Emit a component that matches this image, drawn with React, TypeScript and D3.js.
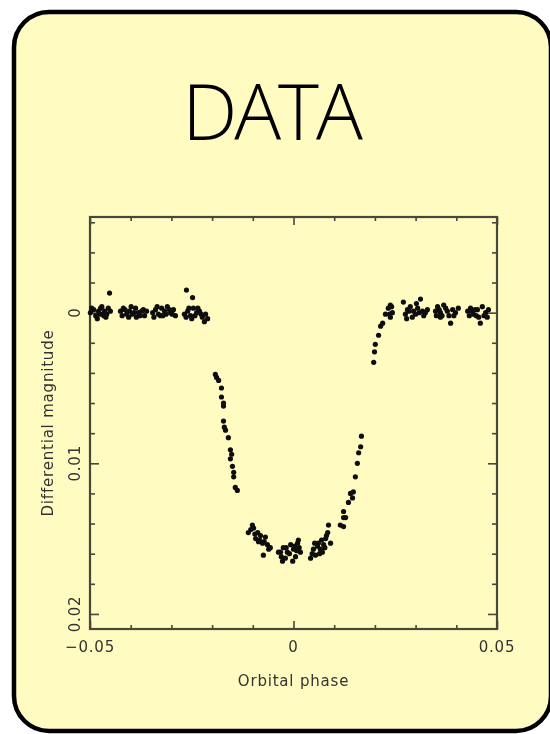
import React, { useEffect, useRef } from "react";
import * as d3 from "d3";

// [orbital phase, differential magnitude]
const preIngress: [number, number][] = [
  [-0.0499, 0], [-0.0491, -0.0002], [-0.0486, 0.0002], [-0.0479, -0.0001], [-0.0474, -0.0003],
  [-0.0469, 0.0001], [-0.0464, -0.0001], [-0.0459, 0.0001], [-0.0455, -0.0003], [-0.045, -0.0001],
  [-0.0452, -0.0013], [-0.0496, -0.0003], [-0.0482, 0.0004], [-0.0471, -0.0004], [-0.0461, 0.0003],
  [-0.0466, 0.0002], [-0.0476, 0.0001],
  [-0.0425, -0.0001], [-0.0418, -0.0003], [-0.041, 0.0001], [-0.0403, -0.0001], [-0.0396, 0.0001],
  [-0.0388, -0.0003], [-0.0381, 0], [-0.0373, -0.0001], [-0.0366, 0.0002], [-0.0361, -0.0001],
  [-0.0405, 0.0003], [-0.0386, 0.0003], [-0.0421, 0.0002], [-0.0414, -0.0002], [-0.0399, -0.0004],
  [-0.0392, 0], [-0.0377, 0.0002], [-0.0369, -0.0002],
  [-0.0346, 0], [-0.0339, -0.0002], [-0.0332, 0.0001], [-0.0324, -0.0003], [-0.0317, -0.0001],
  [-0.031, -0.0004], [-0.0302, 0], [-0.0295, -0.0002], [-0.029, 0.0002], [-0.0327, 0.0002],
  [-0.0343, 0.0003], [-0.0335, -0.0004], [-0.0321, 0.0002], [-0.0313, 0.0001], [-0.0305, -0.0002],
  [-0.0298, 0.0001],
  [-0.0263, -0.0015], [-0.0248, -0.001], [-0.0268, 0.0001], [-0.026, -0.0001], [-0.0253, 0.0002],
  [-0.0246, -0.0003], [-0.0238, 0], [-0.0231, -0.0001], [-0.0224, 0.0003], [-0.0216, 0.0001],
  [-0.0219, 0.0006], [-0.0211, 0.0004], [-0.0264, 0.0003], [-0.0257, -0.0003], [-0.025, 0.0004],
  [-0.0242, 0.0002], [-0.0235, -0.0003], [-0.0227, 0.0001]
];

const ingress: [number, number][] = [
  [-0.0192, 0.0041], [-0.0189, 0.0043], [-0.0184, 0.0045], [-0.0177, 0.005], [-0.0177, 0.0056],
  [-0.0172, 0.006], [-0.0172, 0.0062], [-0.0172, 0.0072], [-0.017, 0.0076], [-0.0167, 0.0078],
  [-0.016, 0.0083], [-0.0155, 0.0091], [-0.0152, 0.0094], [-0.0155, 0.0097], [-0.015, 0.0102],
  [-0.0147, 0.0106], [-0.0147, 0.0109], [-0.0143, 0.0116], [-0.0138, 0.0118]
];

const transitFloor: [number, number][] = [
  [-0.0101, 0.0141], [-0.0098, 0.0143], [-0.0111, 0.0146], [-0.0088, 0.0146], [-0.0081, 0.0148],
  [-0.0093, 0.015], [-0.0069, 0.0149], [-0.0086, 0.0152], [-0.0064, 0.0154], [-0.0076, 0.0153],
  [-0.0057, 0.0156], [-0.0074, 0.0161], [-0.0105, 0.0144], [-0.0095, 0.0147], [-0.0083, 0.0151],
  [-0.0072, 0.0152], [-0.0061, 0.0157],
  [-0.0037, 0.0159], [-0.0032, 0.0159], [-0.0025, 0.0156], [-0.0015, 0.0159], [-0.0007, 0.0154],
  [-0.002, 0.0163], [0, 0.0157], [0.001, 0.0153], [0.0005, 0.0162], [0.0017, 0.0159],
  [-0.0027, 0.0165], [-0.0002, 0.0165], [0.0012, 0.0151], [-0.003, 0.0162], [-0.0018, 0.0156],
  [-0.001, 0.016], [0.0003, 0.0155], [0.0008, 0.0158], [0.0014, 0.0156],
  [0.0042, 0.0163], [0.0049, 0.0157], [0.0059, 0.0155], [0.0066, 0.0157], [0.0061, 0.0153],
  [0.0074, 0.0154], [0.0079, 0.015], [0.0086, 0.0141], [0.0084, 0.0146], [0.0091, 0.0153],
  [0.0071, 0.0159], [0.0054, 0.0161], [0.0046, 0.016], [0.0052, 0.0153], [0.0064, 0.016],
  [0.0069, 0.0151], [0.0077, 0.0156], [0.0081, 0.0148]
];

const egress: [number, number][] = [
  [0.0115, 0.0141], [0.0123, 0.0142], [0.0123, 0.0136], [0.0123, 0.0132], [0.0128, 0.0136],
  [0.0135, 0.0126], [0.014, 0.012], [0.0145, 0.0123], [0.0147, 0.0119], [0.0152, 0.0109],
  [0.0157, 0.01], [0.016, 0.0093], [0.0165, 0.0089], [0.0167, 0.0082],
  [0.0197, 0.0033], [0.0199, 0.0026], [0.0201, 0.0021], [0.0209, 0.0015], [0.0214, 0.0009],
  [0.0219, 0.0007], [0.0226, 0.0001], [0.0233, -0.0003], [0.0238, -0.0005], [0.0243, 0],
  [0.0238, 0.0003], [0.0241, -0.0004], [0.0236, 0.0001]
];

const postEgress: [number, number][] = [
  [0.027, -0.0007], [0.028, -0.0002], [0.0287, -0.0004], [0.0295, -0.0001], [0.0305, -0.0003],
  [0.0312, -0.0009], [0.0317, -0.0001], [0.0324, 0], [0.0275, 0.0001], [0.0292, 0.0003],
  [0.0329, -0.0002], [0.0278, 0.0004], [0.0284, -0.0001], [0.03, 0.0001], [0.0309, 0],
  [0.032, 0.0002], [0.0302, -0.0006],
  [0.0349, -0.0001], [0.0354, -0.0004], [0.0361, 0], [0.0369, -0.0005], [0.0378, -0.0001],
  [0.0386, 0.0007], [0.0391, -0.0002], [0.0398, 0], [0.0405, -0.0003], [0.0361, 0.0003],
  [0.0351, 0.0002], [0.0358, -0.0002], [0.0365, 0.0002], [0.0374, -0.0003], [0.0382, 0.0002],
  [0.0394, 0.0002],
  [0.0428, -0.0001], [0.0435, -0.0003], [0.0442, 0.0001], [0.0452, -0.0002], [0.0459, 0.0007],
  [0.0464, -0.0004], [0.0472, 0], [0.0479, -0.0002], [0.0455, 0.0003], [0.0432, 0.0002],
  [0.0439, -0.0001], [0.0446, -0.0002], [0.0449, 0.0002], [0.0468, 0.0002], [0.0476, 0.0003]
];

const xMajorTicks = [-0.05, 0, 0.05];
const xMinorTicks = [-0.04, -0.03, -0.02, -0.01, 0.01, 0.02, 0.03, 0.04];
const yMajorTicks = [0, 0.01, 0.02];
const yMinorTicks = [-0.006, -0.004, -0.002, 0.002, 0.004, 0.006, 0.008, 0.012, 0.014, 0.016, 0.018];

const margin = { left: 90, top: 217 };
const innerW = 407;
const innerH = 412;
const axisColor = "#47473a";
const labelFont = "'DejaVu Sans', sans-serif";

export default function App() {
  const plotRef = useRef<SVGGElement>(null);

  useEffect(() => {
    const g = d3.select(plotRef.current);
    g.selectAll("*").remove();

    const x = d3.scaleLinear().domain([-0.05, 0.05]).range([0, innerW]);
    const y = d3.scaleLinear().domain([-0.00635, 0.021]).range([0, innerH]);
    const fmt = (d: number) => (d === 0 ? "0" : d3.format(".2~f")(d));

    // tick marks on all four sides, pointing inward
    const ticks = (axis: any, transform: string) => {
      const a = g.append("g").attr("transform", transform).call(axis);
      a.select(".domain").remove();
      a.selectAll("text").remove();
      a.selectAll("line").attr("stroke", axisColor).attr("stroke-width", 1.6);
    };
    ticks(d3.axisBottom(x).tickValues(xMinorTicks).tickSize(-4), `translate(0,${innerH})`);
    ticks(d3.axisBottom(x).tickValues(xMajorTicks).tickSize(-8), `translate(0,${innerH})`);
    ticks(d3.axisTop(x).tickValues(xMinorTicks).tickSize(-4), "translate(0,0)");
    ticks(d3.axisTop(x).tickValues(xMajorTicks).tickSize(-8), "translate(0,0)");
    ticks(d3.axisLeft(y).tickValues(yMinorTicks).tickSize(-5), "translate(0,0)");
    ticks(d3.axisLeft(y).tickValues(yMajorTicks).tickSize(-9), "translate(0,0)");
    ticks(d3.axisRight(y).tickValues(yMinorTicks).tickSize(-5), `translate(${innerW},0)`);
    ticks(d3.axisRight(y).tickValues(yMajorTicks).tickSize(-9), `translate(${innerW},0)`);

    g.append("rect")
      .attr("width", innerW)
      .attr("height", innerH)
      .attr("fill", "none")
      .attr("stroke", axisColor)
      .attr("stroke-width", 2.2);

    // tick labels
    g.selectAll(".xlab")
      .data(xMajorTicks)
      .join("text")
      .attr("class", "xlab")
      .attr("x", (d) => x(d))
      .attr("y", innerH + 23)
      .attr("text-anchor", "middle")
      .text(fmt);

    g.selectAll(".ylab")
      .data(yMajorTicks)
      .join("text")
      .attr("class", "ylab")
      .attr("transform", (d) => `translate(-10,${y(d)}) rotate(-90)`)
      .attr("text-anchor", "middle")
      .text(fmt);

    // axis titles
    g.append("text")
      .attr("x", innerW / 2)
      .attr("y", innerH + 57)
      .attr("text-anchor", "middle")
      .text("Orbital phase");

    g.append("text")
      .attr("transform", `translate(-37,${innerH / 2}) rotate(-90)`)
      .attr("text-anchor", "middle")
      .text("Differential magnitude");

    g.selectAll("text")
      .attr("font-family", labelFont)
      .attr("font-size", 15)
      .attr("letter-spacing", 0.8)
      .attr("fill", "#333");

    const points = [...preIngress, ...ingress, ...transitFloor, ...egress, ...postEgress];
    g.append("g")
      .selectAll("circle")
      .data(points)
      .join("circle")
      .attr("cx", (d) => x(d[0]))
      .attr("cy", (d) => y(d[1]))
      .attr("r", 2.6)
      .attr("fill", "#111");
  }, []);

  return (
    <svg
      width={550}
      height={734}
      style={{ position: "absolute", left: 0, top: 0, display: "block" }}
    >
      <defs>
        <filter id="soft" x="-5%" y="-5%" width="110%" height="110%">
          <feGaussianBlur stdDeviation={0.7} />
        </filter>
      </defs>
      <rect x={0} y={0} width={550} height={734} fill="#fff" />
      <rect
        x={14}
        y={12}
        width={537}
        height={719}
        rx={35}
        fill="#fffbc1"
        stroke="#000"
        strokeWidth={4.5}
      />
      <text
        x={271}
        y={140}
        textAnchor="middle"
        fontFamily="'Open Sans', 'Noto Sans', sans-serif"
        fontWeight={300}
        fontSize={78}
        letterSpacing={-3}
        fill="#000"
      >
        DATA
      </text>
      <g
        ref={plotRef}
        transform={`translate(${margin.left},${margin.top})`}
        filter="url(#soft)"
      />
    </svg>
  );
}
